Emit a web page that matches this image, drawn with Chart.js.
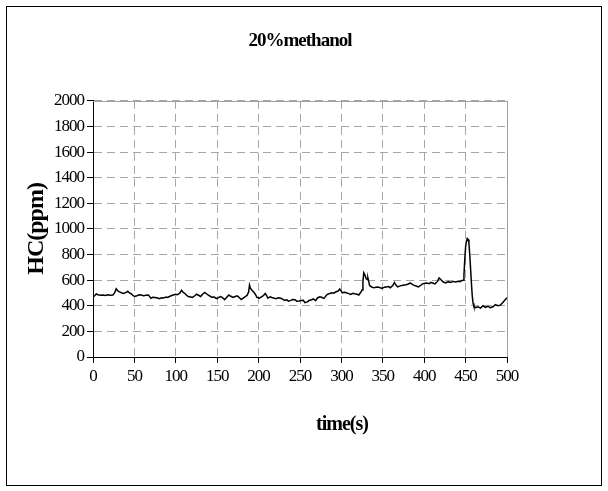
<!DOCTYPE html>
<html>
<head>
<meta charset="utf-8">
<script src="https://cdn.jsdelivr.net/npm/chart.js@4"></script>
<style>
  html, body { margin: 0; background: #fff; }
</style>
</head>
<body>
<canvas id="hcChart" width="608" height="491"></canvas>
<script>
// --- Data ---
const timeS = [
  0, 2, 4, 6, 9, 12, 15, 18, 21, 24, 26, 28, 30, 32, 35, 37, 40, 42, 44, 46, 48,
  50, 53, 56, 58, 61, 64, 67, 70, 72, 75, 78, 80, 83, 85, 88, 90, 93, 95, 97,
  100, 102, 105, 107, 109, 111, 113, 115, 118, 120, 123, 125, 128, 130, 132, 135, 137, 139, 141, 144, 146, 149,
  151, 154, 156, 159, 161, 164, 166, 169, 171, 174, 176, 179, 181, 184, 186, 188, 189, 190, 192, 194, 196, 198,
  201, 204, 206, 208, 210, 211, 214, 216, 219, 221, 224, 226, 229, 231, 234, 236, 239, 241, 244, 246, 249,
  251, 254, 256, 259, 261, 264, 266, 269, 271, 274, 276, 279, 281, 283, 286, 288, 291, 293, 296, 298,
  300, 301, 304, 306, 309, 311, 314, 316, 319, 321, 323, 325, 326, 327, 328, 329, 330, 331, 332, 333, 334, 336,
  339, 342, 344, 347, 349, 352, 354, 357, 359, 362, 364, 366, 368, 371, 373, 376, 378, 381, 383, 386, 388, 391, 393, 396, 398,
  401, 403, 406, 408, 411, 413, 416, 418, 420, 423, 426, 429, 432, 435, 438, 441, 443, 445,
  447, 448, 449, 450, 451, 452, 453, 454, 455, 456, 457, 458, 459, 460, 462, 465, 468, 471, 474,
  477, 480, 483, 486, 489, 492, 495, 498, 500
];

const hcPpm = [
  470, 478, 492, 486, 482, 484, 480, 486, 482, 484, 500, 532, 515, 508, 500, 496, 505, 513, 500, 494, 482,
  472, 478, 486, 484, 478, 482, 484, 458, 466, 465, 460, 455, 462, 460, 468, 465, 474, 480, 484,
  490, 486, 500, 520, 504, 496, 482, 472, 468, 465, 478, 490, 480, 472, 488, 504, 494, 484, 476, 465, 470, 455,
  462, 472, 465, 448, 462, 484, 476, 465, 470, 477, 468, 448, 458, 472, 480, 508, 561, 540, 520, 508, 490, 465,
  460, 472, 480, 496, 478, 460, 470, 465, 458, 455, 462, 460, 452, 443, 446, 436, 442, 448, 447, 436, 437,
  441, 442, 424, 430, 441, 447, 453, 440, 461, 470, 466, 458, 475, 489, 495, 501, 498, 508, 515, 531,
  512, 501, 505, 501, 495, 489, 498, 494, 490, 484, 501, 524, 590, 657, 645, 629, 610, 606, 617, 590, 559, 548,
  540, 545, 547, 540, 536, 545, 547, 550, 540, 558, 582, 560, 547, 555, 559, 562, 564, 570, 578, 565, 559, 552, 547, 560, 571,
  575, 578, 572, 582, 576, 571, 590, 617, 605, 585, 578, 588, 582, 590, 586, 592, 588, 595,
  600, 640, 760, 860, 905, 925, 918, 890, 800, 690, 580, 480, 420, 395, 385, 392, 382, 400, 388,
  395, 385, 392, 408, 400, 405, 425, 448, 462
];

const xTicks = [0, 50, 100, 150, 200, 250, 300, 350, 400, 450, 500];
const yTicks = [0, 200, 400, 600, 800, 1000, 1200, 1400, 1600, 1800, 2000];

const chartTitle = '20%methanol';
const xTitle = 'time(s)';
const yTitle = 'HC(ppm)';

const serif = 'Liberation Serif';

// --- Plugins ---
// Condensed serif look for every label on the canvas
const tightText = {
  id: 'tightText',
  beforeUpdate(chart) { chart.ctx.letterSpacing = '-1px'; },
  beforeDraw(chart) { chart.ctx.letterSpacing = '-1px'; },
};

// Outer border, grey top/right plot edges and the x axis caption
const frame = {
  id: 'frame',
  afterDraw(chart) {
    const { ctx, chartArea: a } = chart;
    ctx.save();
    ctx.setLineDash([]);
    ctx.lineWidth = 1;
    ctx.strokeStyle = '#a0a0a0';
    ctx.beginPath();
    ctx.moveTo(a.left, Math.round(a.top) + 0.5);
    ctx.lineTo(Math.round(a.right) + 0.5, Math.round(a.top) + 0.5);
    ctx.lineTo(Math.round(a.right) + 0.5, a.bottom);
    ctx.stroke();
    ctx.strokeStyle = '#000';
    ctx.strokeRect(6.5, 6.5, 595, 479);

    ctx.letterSpacing = '-1px';
    ctx.fillStyle = '#000';
    ctx.font = `bold 20px "${serif}"`;
    ctx.textAlign = 'center';
    ctx.textBaseline = 'middle';
    ctx.fillText(xTitle, 342, 425);
    ctx.restore();
  },
};

new Chart($('hcChart'), {
  type: 'scatter',
  data: {
    datasets: [{
      data: timeS.map((t, i) => ({ x: t, y: hcPpm[i] })),
      showLine: true,
      borderColor: '#000',
      borderWidth: 1.5,
      pointRadius: 0,
      tension: 0,
    }],
  },
  options: {
    responsive: false,
    animation: false,
    layout: { padding: { left: 20, right: 101, top: 20, bottom: 50 } },
    plugins: {
      legend: { display: false },
      tooltip: { enabled: false },
      title: {
        display: true,
        text: chartTitle,
        fullSize: false,
        color: '#000',
        font: { family: serif, size: 19, weight: 'bold' },
        padding: { top: 10, bottom: 48 },
      },
    },
    scales: {
      x: {
        type: 'linear',
        min: 0,
        max: 500,
        afterBuildTicks: s => { s.ticks = xTicks.map(v => ({ value: v })); },
        afterFit: s => { s.height = 84; },
        ticks: {
          color: '#000', padding: 3, maxRotation: 0,
          font: { family: serif, size: 17 },
          callback: v => String(v),
        },
        grid: { color: '#a6a6a6', lineWidth: 1, tickColor: '#000', tickLength: 6 },
        border: { color: '#000', width: 1, dash: [8, 5] },
      },
      y: {
        type: 'linear',
        min: 0,
        max: 2000,
        afterBuildTicks: s => { s.ticks = yTicks.map(v => ({ value: v })); },
        afterFit: s => { s.width = 73; },
        ticks: {
          color: '#000', padding: 3,
          font: { family: serif, size: 17 },
          callback: v => String(v),
        },
        grid: { color: '#a6a6a6', lineWidth: 1, tickColor: '#000', tickLength: 6 },
        border: { color: '#000', width: 1, dash: [8, 5] },
        title: {
          display: true,
          text: yTitle,
          color: '#000',
          padding: { top: 2, bottom: 4 },
          font: { family: serif, size: 24, weight: 'bold' },
        },
      },
    },
  },
  plugins: [tightText, frame],
});

function $(id) { return document.getElementById(id); }
</script>
</body>
</html>
